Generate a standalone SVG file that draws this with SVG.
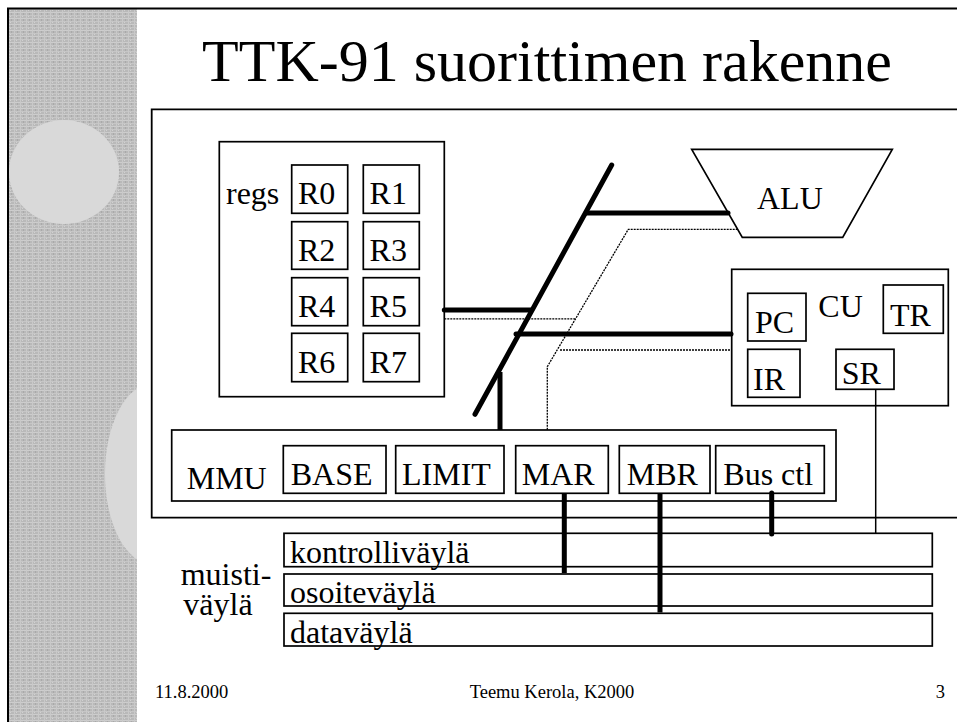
<svg xmlns="http://www.w3.org/2000/svg" width="957" height="722" viewBox="0 0 957 722">
<style>
.t{font-family:"Liberation Serif","Times New Roman",serif;font-size:32px;fill:#000}
.f{font-family:"Liberation Serif","Times New Roman",serif;font-size:18.5px;fill:#000}
.b{fill:#fff;stroke:#000;stroke-width:1.7}
.thick{fill:none;stroke:#000;stroke-width:5;stroke-linecap:round}
.thin{fill:none;stroke:#000;stroke-width:1.5}
.dot{fill:none;stroke:#000;stroke-width:1.3;stroke-dasharray:2 1}
</style>
<defs>
<pattern id="tex" width="6" height="6" patternUnits="userSpaceOnUse">
<rect width="6" height="6" fill="#b9b9b9"/>
<rect x="0" y="0" width="6" height="1" fill="#cdcdcd"/>
<rect x="0" y="3" width="6" height="1" fill="#c6c6c6"/>
<rect x="2" y="0" width="1" height="6" fill="#c9c9c9"/>
<rect x="5" y="1" width="1" height="2" fill="#a9a9a9"/>
<rect x="4" y="4" width="1" height="1" fill="#d2d2d2"/>
</pattern>
<clipPath id="strip"><rect x="9" y="9" width="128" height="713"/></clipPath>
</defs>
<rect width="957" height="722" fill="#fff"/>
<g id="background">
<rect x="9" y="9" width="128" height="713" fill="url(#tex)"/>
<g clip-path="url(#strip)" fill="#d9d9d9">
<ellipse cx="64" cy="172" rx="55" ry="52"/>
<ellipse cx="152" cy="474" rx="47" ry="90"/>
</g>
<path d="M8,722 V8.5 H957" fill="none" stroke="#000" stroke-width="2"/>
</g>
<text class="t" x="547" y="81" style="font-size:60px" text-anchor="middle">TTK-91 suorittimen rakenne</text>
<g id="cpu">
<path d="M960,109.3 H151.7 V517.7 H960" fill="none" stroke="#000" stroke-width="1.8"/>
</g>
<g id="regs">
<rect class="b" x="219.3" y="141.7" width="225" height="255"/>
<text class="t" x="226" y="204">regs</text>
<rect class="b" x="291.7" y="165" width="56" height="48.3"/>
<rect class="b" x="363.3" y="165" width="56" height="48.3"/>
<rect class="b" x="291.7" y="221.7" width="56" height="47.6"/>
<rect class="b" x="363.3" y="221.7" width="56" height="47.6"/>
<rect class="b" x="291.7" y="277.7" width="56" height="48"/>
<rect class="b" x="363.3" y="277.7" width="56" height="48"/>
<rect class="b" x="291.7" y="333.3" width="56" height="48.4"/>
<rect class="b" x="363.3" y="333.3" width="56" height="48.4"/>
<text class="t" x="298" y="204">R0</text>
<text class="t" x="369.6" y="204">R1</text>
<text class="t" x="298" y="260.5">R2</text>
<text class="t" x="369.6" y="260.5">R3</text>
<text class="t" x="298" y="316.5">R4</text>
<text class="t" x="369.6" y="316.5">R5</text>
<text class="t" x="298" y="372.5">R6</text>
<text class="t" x="369.6" y="372.5">R7</text>
</g>
<g id="alu">
<path class="b" d="M691.7,149.3 H892.3 L842.7,237.3 H742.3 Z"/>
<text class="t" x="757" y="209">ALU</text>
</g>
<g id="cu">
<rect class="b" x="731.7" y="269.3" width="216.6" height="136.4"/>
<text class="t" x="818.3" y="317.3">CU</text>
<rect class="b" x="747.7" y="293.3" width="58.3" height="47.7"/>
<text class="t" x="755" y="333">PC</text>
<rect class="b" x="747.7" y="349.3" width="52.3" height="48"/>
<text class="t" x="753" y="390">IR</text>
<rect class="b" x="836" y="349.3" width="58" height="40"/>
<text class="t" x="841.7" y="384">SR</text>
<rect class="b" x="883.3" y="285" width="60" height="48.3"/>
<text class="t" x="890" y="325.7">TR</text>
</g>
<g id="mmu">
<rect class="b" x="171.7" y="430" width="664.3" height="71"/>
<text class="t" x="186.7" y="489.3">MMU</text>
<rect class="b" x="283.3" y="445.7" width="102.7" height="47.6"/>
<text class="t" x="290.7" y="485">BASE</text>
<rect class="b" x="395.7" y="445.7" width="108.3" height="47.6"/>
<text class="t" x="402" y="485">LIMIT</text>
<rect class="b" x="515.7" y="445.7" width="92.6" height="47.6"/>
<text class="t" x="521.7" y="485">MAR</text>
<rect class="b" x="619.3" y="445.7" width="90.7" height="47.6"/>
<text class="t" x="626.7" y="485">MBR</text>
<rect class="b" x="715.7" y="445.7" width="108.6" height="47.6"/>
<text class="t" x="723.3" y="485">Bus ctl</text>
</g>
<g id="membus">
<text class="t"><tspan x="180.7" y="585">muisti-</tspan><tspan x="183.3" y="615">väylä</tspan></text>
<rect class="b" x="284" y="533.3" width="648.3" height="33.4"/>
<text class="t" x="290" y="563.3">kontrolliväylä</text>
<rect class="b" x="284" y="574" width="648.3" height="32"/>
<text class="t" x="290" y="603.3">osoiteväylä</text>
<rect class="b" x="284" y="613.3" width="648.3" height="32.7"/>
<text class="t" x="290" y="643.3">dataväylä</text>
</g>
<g id="connectors">
<line class="thick" x1="611.7" y1="165" x2="475" y2="414.3"/>
<line class="thick" x1="444.3" y1="310" x2="531" y2="310"/>
<line class="thick" x1="586" y1="213" x2="728" y2="213"/>
<line class="thick" x1="516" y1="334" x2="731" y2="334"/>
<line class="thick" x1="500" y1="372" x2="500" y2="430" style="stroke-linecap:butt"/>
<path class="dot" d="M737.7,229.3 H628.3 L547.3,366.7 V430"/>
<path class="dot" d="M444.3,318.8 H575.5"/>
<path class="dot" d="M560,350 H731.7"/>
<line class="thin" x1="875.7" y1="389.3" x2="875.7" y2="533.3"/>
<line class="thick" x1="564.3" y1="493" x2="564.3" y2="573" style="stroke-linecap:butt"/>
<line class="thick" x1="660" y1="493" x2="660" y2="612.5" style="stroke-linecap:butt"/>
<line class="thick" x1="771.7" y1="493" x2="771.7" y2="534"/>
</g>
<g id="footer">
<text class="f" x="155" y="698.3">11.8.2000</text>
<text class="f" x="552" y="698.3" text-anchor="middle">Teemu Kerola, K2000</text>
<text class="f" x="945" y="698.3" text-anchor="end">3</text>
</g>
</svg>
